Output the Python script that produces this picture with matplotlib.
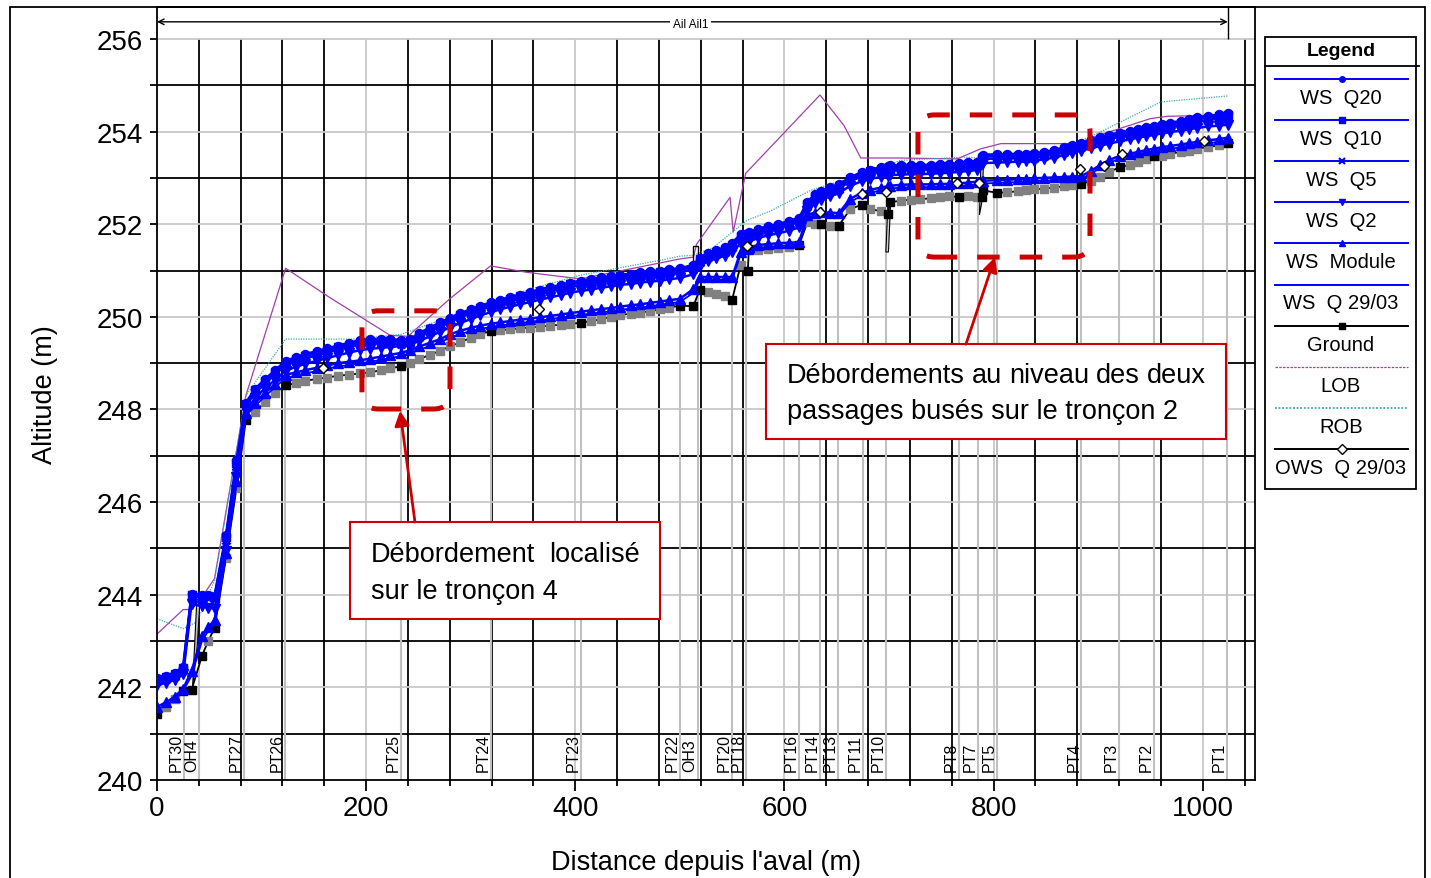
import matplotlib
matplotlib.use("Agg")
import matplotlib.pyplot as plt
import numpy as np
from matplotlib import font_manager
from matplotlib.lines import Line2D
from matplotlib.patches import FancyBboxPatch, Polygon, Rectangle

# stations along the reach (m from the downstream end)
STATIONS = [0, 9, 17, 25, 33, 43, 49, 55, 66, 76,
            85, 94, 103, 113, 123, 133, 142, 153, 163, 173,
            184, 194, 204, 214, 223, 233, 242, 251, 261, 271,
            280, 290, 300, 309, 319, 328, 338, 347, 357, 366,
            376, 386, 395, 405, 415, 425, 434, 443, 453, 462,
            471, 481, 490, 500, 513, 519, 527, 535, 543, 550,
            558, 565, 566, 575, 584, 594, 604, 614, 622, 629,
            635, 644, 652, 663, 674, 682, 692, 699, 701, 711,
            721, 730, 740, 749, 757, 767, 776, 784, 789, 790,
            803, 813, 823, 831, 839, 848, 858, 867, 875, 884,
            893, 902, 910, 921, 930, 938, 946, 953, 961, 969,
            979, 987, 995, 1005, 1016, 1024]

GROUND = [241.43, 241.57, 241.75, 241.93, 241.94, 242.68, 243.00, 243.28, 244.80, 246.30,
          247.78, 247.94, 248.16, 248.36, 248.52, 248.57, 248.62, 248.66, 248.69, 248.73,
          248.75, 248.78, 248.80, 248.85, 248.89, 248.93, 249.00, 249.09, 249.18, 249.27,
          249.36, 249.45, 249.55, 249.63, 249.69, 249.71, 249.73, 249.75, 249.77, 249.79,
          249.81, 249.83, 249.85, 249.87, 249.91, 249.95, 250.00, 250.04, 250.07, 250.09,
          250.12, 250.16, 250.20, 250.24, 250.23, 250.59, 250.53, 250.50, 250.45, 250.37,
          251.11, 250.99, 251.47, 251.45, 251.46, 251.48, 251.50, 251.55, 252.04, 252.00,
          252.00, 251.97, 251.97, 252.33, 252.42, 252.33, 252.28, 252.22, 252.47, 252.51,
          252.53, 252.54, 252.56, 252.59, 252.60, 252.59, 252.60, 252.59, 252.58, 252.73,
          252.68, 252.69, 252.71, 252.73, 252.75, 252.77, 252.79, 252.82, 252.85, 252.86,
          252.94, 253.01, 253.13, 253.23, 253.28, 253.34, 253.41, 253.47, 253.48, 253.52,
          253.56, 253.59, 253.63, 253.67, 253.70, 253.75]

# surveyed sections (black markers), the others are interpolated (grey)
SURVEYED = [0, 25, 33, 43, 55, 85, 123, 233, 319, 405, 500, 513, 519, 550, 565, 566,
            614, 635, 652, 674, 699, 701, 767, 789, 790, 803, 884, 921, 953, 1024]

WS_Q20 = [242.20, 242.25, 242.32, 242.45, 244.02, 244.00, 243.99, 243.98, 245.30, 246.90,
          248.15, 248.45, 248.65, 248.85, 249.05, 249.13, 249.20, 249.26, 249.32, 249.38,
          249.44, 249.50, 249.52, 249.52, 249.52, 249.50, 249.52, 249.65, 249.77, 249.88,
          249.98, 250.08, 250.16, 250.24, 250.31, 250.37, 250.43, 250.48, 250.54, 250.59,
          250.64, 250.69, 250.74, 250.78, 250.81, 250.85, 250.88, 250.91, 250.93, 250.96,
          250.98, 251.00, 251.03, 251.05, 251.12, 251.28, 251.38, 251.44, 251.50, 251.60,
          251.78, 251.82, 251.83, 251.90, 251.96, 252.00, 252.07, 252.14, 252.48, 252.65,
          252.72, 252.80, 252.86, 253.02, 253.12, 253.18, 253.23, 253.26, 253.27, 253.28,
          253.28, 253.28, 253.28, 253.29, 253.30, 253.32, 253.34, 253.35, 253.48, 253.50,
          253.51, 253.51, 253.52, 253.52, 253.53, 253.56, 253.60, 253.66, 253.71, 253.76,
          253.82, 253.88, 253.93, 253.98, 254.02, 254.06, 254.09, 254.12, 254.16, 254.19,
          254.23, 254.27, 254.31, 254.34, 254.37, 254.40]

WS_Q10 = [242.17, 242.22, 242.29, 242.41, 244.00, 243.98, 243.97, 243.96, 245.25, 246.85,
          248.12, 248.41, 248.61, 248.81, 249.01, 249.09, 249.16, 249.22, 249.28, 249.34,
          249.40, 249.46, 249.48, 249.48, 249.48, 249.46, 249.48, 249.61, 249.73, 249.84,
          249.94, 250.04, 250.12, 250.20, 250.27, 250.33, 250.39, 250.44, 250.50, 250.55,
          250.60, 250.65, 250.70, 250.74, 250.77, 250.81, 250.84, 250.87, 250.89, 250.92,
          250.94, 250.96, 250.99, 251.01, 251.08, 251.24, 251.34, 251.40, 251.46, 251.56,
          251.74, 251.78, 251.79, 251.86, 251.92, 251.96, 252.03, 252.10, 252.44, 252.61,
          252.68, 252.76, 252.82, 252.98, 253.08, 253.14, 253.19, 253.22, 253.23, 253.24,
          253.24, 253.24, 253.24, 253.25, 253.26, 253.28, 253.30, 253.31, 253.44, 253.46,
          253.47, 253.47, 253.48, 253.48, 253.49, 253.52, 253.56, 253.62, 253.67, 253.72,
          253.78, 253.84, 253.89, 253.94, 253.98, 254.02, 254.05, 254.08, 254.12, 254.15,
          254.19, 254.23, 254.27, 254.30, 254.33, 254.36]

WS_Q5 = [242.13, 242.18, 242.25, 242.37, 243.97, 243.94, 243.92, 243.91, 245.18, 246.78,
         248.08, 248.36, 248.56, 248.76, 248.96, 249.04, 249.11, 249.17, 249.23, 249.29,
         249.35, 249.41, 249.43, 249.43, 249.43, 249.41, 249.43, 249.56, 249.68, 249.79,
         249.89, 249.99, 250.07, 250.15, 250.22, 250.28, 250.34, 250.39, 250.45, 250.50,
         250.55, 250.60, 250.65, 250.69, 250.72, 250.76, 250.79, 250.82, 250.84, 250.87,
         250.89, 250.91, 250.94, 250.96, 251.03, 251.19, 251.29, 251.35, 251.41, 251.51,
         251.69, 251.73, 251.74, 251.81, 251.87, 251.91, 251.98, 252.05, 252.39, 252.56,
         252.63, 252.71, 252.77, 252.93, 253.03, 253.09, 253.14, 253.17, 253.18, 253.19,
         253.19, 253.19, 253.19, 253.20, 253.21, 253.23, 253.25, 253.26, 253.39, 253.41,
         253.42, 253.42, 253.43, 253.43, 253.44, 253.47, 253.51, 253.57, 253.62, 253.67,
         253.73, 253.79, 253.84, 253.89, 253.93, 253.97, 254.00, 254.03, 254.07, 254.10,
         254.14, 254.18, 254.22, 254.25, 254.28, 254.31]

WS_Q2 = [242.05, 242.10, 242.16, 242.28, 243.80, 243.75, 243.72, 243.70, 244.95, 246.55,
         247.98, 248.25, 248.45, 248.64, 248.84, 248.92, 248.99, 249.05, 249.11, 249.17,
         249.23, 249.28, 249.31, 249.33, 249.35, 249.37, 249.40, 249.48, 249.58, 249.68,
         249.77, 249.87, 249.95, 250.03, 250.10, 250.16, 250.22, 250.27, 250.32, 250.37,
         250.42, 250.47, 250.52, 250.56, 250.59, 250.63, 250.66, 250.69, 250.71, 250.74,
         250.76, 250.78, 250.81, 250.84, 250.92, 251.10, 251.20, 251.26, 251.32, 251.40,
         251.58, 251.62, 251.63, 251.70, 251.76, 251.80, 251.86, 251.93, 252.28, 252.45,
         252.52, 252.60, 252.67, 252.83, 252.93, 252.98, 253.02, 253.05, 253.06, 253.07,
         253.08, 253.08, 253.09, 253.10, 253.11, 253.13, 253.15, 253.17, 253.30, 253.32,
         253.33, 253.34, 253.35, 253.36, 253.37, 253.40, 253.44, 253.49, 253.54, 253.59,
         253.64, 253.69, 253.74, 253.79, 253.83, 253.87, 253.90, 253.93, 253.96, 253.99,
         254.02, 254.05, 254.08, 254.11, 254.13, 254.15]

WS_MODULE = [241.58, 241.68, 241.80, 241.97, 242.35, 243.10, 243.30, 243.45, 244.90, 246.45,
             247.92, 248.15, 248.35, 248.55, 248.75, 248.80, 248.85, 248.90, 248.95, 249.00,
             249.03, 249.06, 249.10, 249.14, 249.18, 249.22, 249.28, 249.36, 249.44, 249.52,
             249.62, 249.70, 249.76, 249.81, 249.85, 249.88, 249.91, 249.94, 249.96, 249.99,
             250.02, 250.05, 250.08, 250.11, 250.14, 250.17, 250.19, 250.22, 250.25, 250.27,
             250.30, 250.33, 250.36, 250.39, 250.60, 250.86, 250.86, 250.86, 250.86, 250.86,
             251.40, 251.47, 251.50, 251.55, 251.57, 251.59, 251.60, 251.61, 252.20, 252.25,
             252.26, 252.25, 252.24, 252.55, 252.68, 252.74, 252.79, 252.82, 252.83, 252.85,
             252.86, 252.86, 252.86, 252.87, 252.87, 252.88, 252.90, 252.92, 252.93, 252.94,
             252.95, 252.96, 252.97, 252.98, 252.99, 253.00, 253.01, 253.02, 253.03, 253.04,
             253.15, 253.28, 253.38, 253.48, 253.52, 253.56, 253.60, 253.63, 253.66, 253.69,
             253.72, 253.75, 253.78, 253.81, 253.84, 253.87]

WS_Q2903 = [241.52, 241.62, 241.74, 241.92, 242.25, 243.00, 243.22, 243.38, 244.85, 246.40,
            247.87, 248.08, 248.28, 248.48, 248.68, 248.73, 248.78, 248.83, 248.88, 248.93,
            248.96, 248.99, 249.03, 249.07, 249.11, 249.15, 249.21, 249.29, 249.37, 249.45,
            249.55, 249.63, 249.69, 249.74, 249.78, 249.81, 249.84, 249.87, 249.89, 249.92,
            249.95, 249.98, 250.01, 250.04, 250.07, 250.10, 250.12, 250.15, 250.18, 250.20,
            250.23, 250.26, 250.29, 250.32, 250.52, 250.80, 250.80, 250.80, 250.80, 250.80,
            251.34, 251.41, 251.44, 251.49, 251.51, 251.53, 251.54, 251.58, 252.14, 252.19,
            252.20, 252.19, 252.18, 252.48, 252.62, 252.68, 252.73, 252.76, 252.77, 252.79,
            252.80, 252.80, 252.80, 252.81, 252.81, 252.82, 252.84, 252.86, 252.87, 252.88,
            252.89, 252.90, 252.91, 252.92, 252.93, 252.94, 252.95, 252.96, 252.97, 252.98,
            253.09, 253.22, 253.32, 253.42, 253.46, 253.50, 253.54, 253.57, 253.60, 253.63,
            253.66, 253.69, 253.72, 253.75, 253.78, 253.81]

# bank stations
LOB_X = [0, 25, 33, 43, 55, 85, 123, 165, 223, 240, 280, 319, 354, 405, 500, 513, 516,
         548, 551, 563, 634, 657, 673, 711, 765, 788, 807, 880, 902, 950, 966, 1024]
LOB_Z = [243.15, 243.68, 243.68, 243.95, 244.35, 248.30, 251.05, 250.42, 249.60, 249.58,
         250.39, 251.10, 250.96, 250.82, 251.25, 251.29, 251.57, 252.58, 251.83, 253.10,
         254.79, 254.13, 253.43, 253.43, 253.41, 253.63, 253.74, 253.74, 253.93, 254.28,
         254.33, 254.36]
ROB_X = [0, 25, 38, 55, 85, 123, 191, 233, 280, 319, 357, 405, 481, 500, 513, 532, 564,
         587, 625, 654, 673, 711, 775, 807, 857, 902, 960, 1024]
ROB_Z = [243.48, 243.27, 243.41, 244.30, 248.30, 249.52, 249.52, 249.62, 250.00, 250.30,
         250.60, 250.90, 251.22, 251.31, 251.33, 251.50, 252.08, 252.29, 252.73, 252.94,
         253.05, 253.38, 253.45, 253.38, 253.52, 253.99, 254.64, 254.77]

# observed water surface of 29/03
OWS_X = [159, 365, 564, 634, 674, 697, 765, 786, 883, 906, 923, 1001]
OWS_Z = [248.90, 250.16, 251.52, 252.27, 252.66, 252.69, 252.90, 252.90, 253.20, 253.25,
         253.52, 253.80]

SECTION_NAMES = ["PT30", "OH4", "PT27", "PT26", "PT25", "PT24", "PT23", "PT22", "OH3",
                 "PT20", "PT18", "PT16", "PT14", "PT13", "PT11", "PT10", "PT8", "PT7",
                 "PT5", "PT4", "PT3", "PT2", "PT1"]
SECTION_X = [26, 40, 83, 122, 233, 319, 405, 500, 517, 550, 563, 614, 634, 651, 675, 697,
             767, 785, 803, 884, 920, 953, 1023]
SECTION_BED = [241.93, 242.50, 247.60, 248.50, 248.93, 249.69, 249.87, 250.24, 250.50,
               250.37, 251.00, 251.55, 252.00, 251.97, 252.42, 252.22, 252.59, 252.59,
               252.68, 252.86, 253.23, 253.47, 253.75]

LEGEND_LABELS = ["WS  Q20", "WS  Q10", "WS  Q5", "WS  Q2", "WS  Module", "WS  Q 29/03",
                 "Ground", "LOB", "ROB", "OWS  Q 29/03"]

BLUE = "#0000ff"
RED = "#cc0000"
LOB_COLOR = "#a040a8"
ROB_COLOR = "#40a8a8"
PX_PER_M = 1098 / 1050  # horizontal data scale of the profile axes


def pick_font(name, fallback):
    try:
        font_manager.findfont(name, fallback_to_default=False)
        return name
    except Exception:
        return fallback


def justified(ax, fig, x0, width_px, y, words, **kw):
    # spread the words so the line fills width_px (like the justified box text)
    renderer = fig.canvas.get_renderer()
    texts = [ax.text(x0, y, w, **kw) for w in words]
    widths = [t.get_window_extent(renderer).width for t in texts]
    gap = (width_px - sum(widths)) / (len(words) - 1)
    x = x0
    for t, w in zip(texts, widths):
        t.set_x(x)
        x += (w + gap) / PX_PER_M


def draw():
    base = pick_font("Liberation Sans", "DejaVu Sans")
    narrow = pick_font("Liberation Sans Narrow", base)
    plt.rcParams["font.family"] = [base, "DejaVu Sans"]

    fig = plt.figure(figsize=(14.31, 8.79), dpi=100)
    ax = fig.add_axes([157 / 1431, 1 - 781 / 879, 1098 / 1431, 773 / 879])
    ax.set_xlim(0, 1050)
    ax.set_ylim(240, 256.69)

    # grid: black minor lines, light grey on the labelled values
    for v in range(40, 1050, 40):
        c = "#c8c8c8" if v % 200 == 0 else "black"
        ax.vlines(v, 240, 256, color=c, lw=1.3, zorder=0)
    for h in range(241, 257):
        c = "#c8c8c8" if h % 2 == 0 else "black"
        ax.hlines(h, 0, 1050, color=c, lw=1.3, zorder=0)

    # cross-section locations
    ax.vlines(SECTION_X, 240, SECTION_BED, color="#c0c0c0", lw=1.5, zorder=1)
    for name, x in zip(SECTION_NAMES, SECTION_X):
        ax.text(x, 240.2, name, rotation=90, ha="right", va="bottom", fontsize=11.5,
                zorder=2)

    ax.plot(LOB_X, LOB_Z, color=LOB_COLOR, lw=0.9, zorder=2)
    ax.plot(ROB_X, ROB_Z, color=ROB_COLOR, lw=0.9, ls=(0, (1, 1)), zorder=2)

    # culverts / structures
    ax.add_patch(Polygon([(34, 242.0), (38, 243.85), (41, 243.85), (38.5, 242.9)],
                         facecolor="#c0c0c0", edgecolor="black", lw=0.8, zorder=3))
    ax.add_patch(Rectangle((512.6, 251.21), 4.8, 0.32, fill=False, edgecolor="black",
                           lw=1.0, zorder=3))
    ax.add_patch(Polygon([(697, 251.4), (699, 252.45), (701.5, 252.45), (699.5, 251.4)],
                         facecolor="#d0d0d0", edgecolor="black", lw=0.8, zorder=3))
    ax.add_patch(Polygon([(786.5, 252.2), (788, 253.4), (790.5, 253.4), (789, 252.5)],
                         facecolor="#d0d0d0", edgecolor="black", lw=0.8, zorder=3))

    # ground
    st = np.array(STATIONS)
    gr = np.array(GROUND)
    surveyed = np.isin(st, SURVEYED)
    ax.plot(st, gr, color="black", lw=1.3, zorder=4)
    ax.plot(st[~surveyed], gr[~surveyed], ls="none", marker="s", ms=6.3,
            color="#808080", zorder=5)
    ax.plot(st[surveyed], gr[surveyed], ls="none", marker="s", ms=6.3,
            color="black", zorder=5)

    # water surfaces
    ax.plot(st, WS_Q2903, color=BLUE, lw=1.3, zorder=6)
    ax.plot(st, WS_MODULE, color=BLUE, lw=1.8, marker="^", ms=6.8, zorder=6)
    ax.plot(st, WS_Q2, color=BLUE, lw=1.8, marker="v", ms=6.8, zorder=6)
    ax.plot(st, WS_Q5, color=BLUE, lw=1.8, marker="x", ms=5.5, mew=1.8, zorder=6)
    ax.plot(st, WS_Q10, color=BLUE, lw=1.8, marker="s", ms=5.8, zorder=6)
    ax.plot(st, WS_Q20, color=BLUE, lw=1.8, marker="o", ms=5.8, zorder=6)
    ax.plot(OWS_X, OWS_Z, ls="none", marker="D", ms=5.5, mfc="white", mec="black",
            mew=1.0, zorder=7)

    # reach name
    ax.annotate("", xy=(0, 256.37), xytext=(1024, 256.37),
                arrowprops=dict(arrowstyle="<->", color="black", lw=1.0,
                                shrinkA=0, shrinkB=0, mutation_scale=10))
    ax.vlines(1024, 256, 256.69, color="black", lw=1.0)
    ax.text(510, 256.33, "Ail Ail1", ha="center", va="center", fontsize=8.5,
            bbox=dict(facecolor="white", edgecolor="none", pad=2))

    # highlighted overflows
    asp = PX_PER_M / 46.31
    for x0, y0, w, h in [(196, 248.01, 84.2, 2.12), (727.7, 251.29, 164.5, 3.07)]:
        ax.add_patch(FancyBboxPatch((x0, y0), w, h,
                                    boxstyle="round,pad=0,rounding_size=16",
                                    mutation_aspect=asp, fill=False, edgecolor=RED,
                                    lw=3.6, ls=(0, (4.5, 4)), zorder=8))

    for x0, y0, w, h in [(582.4, 247.36, 439.9, 2.05), (184.6, 243.48, 296.4, 2.09)]:
        ax.add_patch(Rectangle((x0, y0), w, h, facecolor="white", edgecolor=RED,
                               lw=1.5, zorder=9))
    ax.annotate("", xy=(801.4, 251.29), xytext=(773.6, 249.41),
                arrowprops=dict(arrowstyle="-|>", color=RED, lw=2, shrinkA=0,
                                shrinkB=0, mutation_scale=22), zorder=9)
    ax.annotate("", xy=(232.4, 247.97), xytext=(246.7, 245.57),
                arrowprops=dict(arrowstyle="-|>", color=RED, lw=2, shrinkA=0,
                                shrinkB=0, mutation_scale=22), zorder=9)
    note = dict(fontsize=19.5, family=[narrow, "DejaVu Sans"], va="center", ha="left",
                zorder=10)
    justified(ax, fig, 602.5, 419, 248.75,
              ["Débordements", "au", "niveau", "des", "deux"], **note)
    ax.text(602.5, 247.97, "passages busés sur le tronçon 2", **note)
    justified(ax, fig, 204.6, 269, 244.88, ["Débordement", "localisé"], **note)
    ax.text(204.6, 244.08, "sur le tronçon 4", **note)

    # axes, ticks, labels
    ax.set_xticks(range(0, 1001, 200))
    ax.set_xticks(range(0, 1050, 40), minor=True)
    ax.set_yticks(range(240, 257, 2))
    ax.set_yticks(range(241, 257, 2), minor=True)
    ax.tick_params(axis="x", which="major", length=8, width=1.3, labelsize=20, pad=3)
    ax.tick_params(axis="x", which="minor", length=4.5, width=1.3)
    ax.tick_params(axis="y", which="both", length=5, width=1.3, labelsize=20, pad=5)
    for s in ax.spines.values():
        s.set_linewidth(1.3)
    ax.set_xlabel("Distance depuis l'aval (m)", fontsize=19.5, labelpad=20)
    ax.set_ylabel("Altitude (m)", fontsize=19.5, labelpad=28)

    # legend box drawn by hand (sample line above its label)
    lg = fig.add_axes([1265 / 1431, 1 - 490 / 879, 151 / 1431, 452 / 879])
    lg.set_xlim(1265, 1416)
    lg.set_ylim(490, 38)
    lg.axis("off")
    lg.add_patch(Rectangle((1265, 38), 151, 452, fill=False, edgecolor="black",
                           lw=1.3, clip_on=False))
    lg.plot([1265, 1419], [66.5, 66.5], color="black", lw=1.3, clip_on=False)
    lg.text(1341, 51, "Legend", ha="center", va="center", fontsize=14,
            fontweight="bold")
    lines = [dict(color=BLUE), dict(color=BLUE), dict(color=BLUE), dict(color=BLUE),
             dict(color=BLUE), dict(color=BLUE), dict(color="black"),
             dict(color=LOB_COLOR, lw=0.9, ls=(0, (2, 1))),
             dict(color=ROB_COLOR, lw=1.3, ls=(0, (1, 1))),
             dict(color="black")]
    marks = [dict(color=BLUE, marker="o", ms=4),
             dict(color=BLUE, marker="s", ms=5),
             dict(color=BLUE, marker="x", ms=4, mew=1.5),
             dict(color=BLUE, marker="v", ms=5),
             dict(color=BLUE, marker="^", ms=5),
             None,
             dict(color="black", marker="s", ms=5),
             None,
             None,
             dict(mec="black", marker="D", ms=5, mfc="white")]
    for i, label in enumerate(LEGEND_LABELS):
        y = 79.5 + i * 41.2
        kw = dict(lw=1.4)
        kw.update(lines[i])
        lg.add_line(Line2D([1275, 1408], [y, y], clip_on=False, **kw))
        if marks[i] is not None:
            lg.plot([1341.5], [y], ls="none", clip_on=False, **marks[i])
        lg.text(1341, y + 18.5, label, ha="center", va="center", fontsize=14.5)

    # outer frame of the figure
    fig.add_artist(Rectangle((10 / 1431, -0.01), 1415 / 1431, 1.01 - 8 / 879,
                             transform=fig.transFigure, fill=False,
                             edgecolor="black", lw=1.3))

    fig.savefig("out.png", dpi=100)


if __name__ == "__main__":
    draw()
